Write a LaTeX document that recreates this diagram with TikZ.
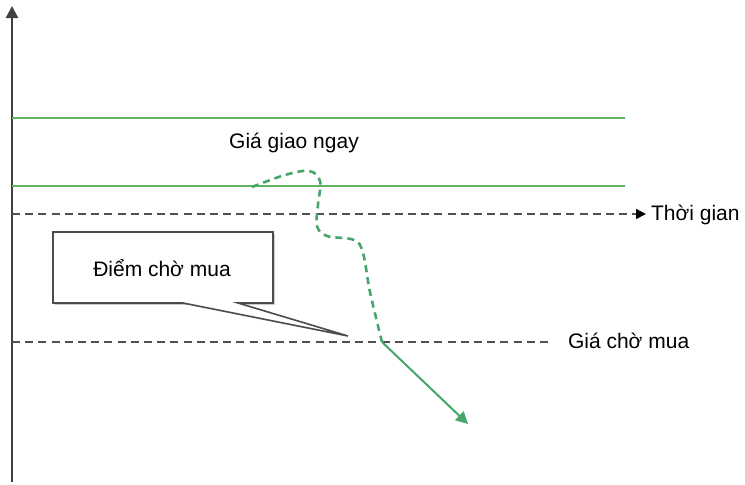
\documentclass[tikz,border=0pt]{standalone}
\usepackage{fontspec}
\setmainfont{Liberation Sans}
\usetikzlibrary{arrows.meta}
\definecolor{lvgreen}{RGB}{95,178,100}
\definecolor{pathgreen}{RGB}{70,165,105}
\definecolor{dashgray}{RGB}{80,80,80}

\begin{document}
\begin{tikzpicture}[x=0.5pt,y=-0.5pt,
    every node/.style={font=\fontsize{10.5}{12}\selectfont},
    axisline/.style={draw=black!75,line width=1.1pt},
    levelline/.style={draw=lvgreen,line width=0.75pt},
    refline/.style={draw=dashgray,line width=0.75pt,dash pattern=on 4pt off 2.6pt}]
      \useasboundingbox (0,0) rectangle (745,484);

      % axis
      \coordinate (o) at (12,482);
      \coordinate (top) at (12,6);
      \draw[axisline,-{Triangle[width=6pt,length=6pt]}] (o) -- (top);

      % spot price band
      \coordinate (hiL) at (12,118);
      \coordinate (hiR) at (625,118);
      \coordinate (loL) at (12,186);
      \coordinate (loR) at (625,186);
      \draw[levelline] (hiL) -- (hiR);
      \draw[levelline] (loL) -- (loR);
      \node (spot) at (294,143) {Giá giao ngay};

      % time line
      \coordinate (tL) at (12,214);
      \coordinate (tR) at (646,214);
      \draw[refline,-{Triangle[width=5pt,length=5pt,color=black]}] (tL) -- (tR);
      \node[anchor=west] (time) at (644,215) {Thời gian};

      % limit price line
      \coordinate (bL) at (12,342);
      \coordinate (bR) at (548,342);
      \draw[refline] (bL) -- (bR);
      \node[anchor=west] (limit) at (561,341) {Giá chờ mua};

      % callout
      \coordinate (tip) at (348,336);
      \fill[black!20] (55,234) rectangle (275,305);
      \draw[black!70,line width=0.8pt,fill=white] (183,303) -- (53,303) -- (53,232)
        -- (273,232) -- (273,303) -- (238,303) -- (tip) -- cycle;
      \node (point) at (162,268) {Điểm chờ mua};

      % price path
      \coordinate (start) at (252,187);
      \coordinate (hit) at (382,342);
      \coordinate (end) at (468,424);
      \draw[pathgreen,line width=1.3pt,dash pattern=on 3.5pt off 2.5pt]
        plot[smooth,tension=0.6] coordinates {(start) (285,175) (309,171) (320,181)
        (318,205) (317,226) (327,236) (354,240) (363,253) (370,292) (hit)};
      \draw[pathgreen,line width=1pt,-{Triangle[width=6pt,length=6pt]}] (hit) -- (end);
\end{tikzpicture}
\end{document}
